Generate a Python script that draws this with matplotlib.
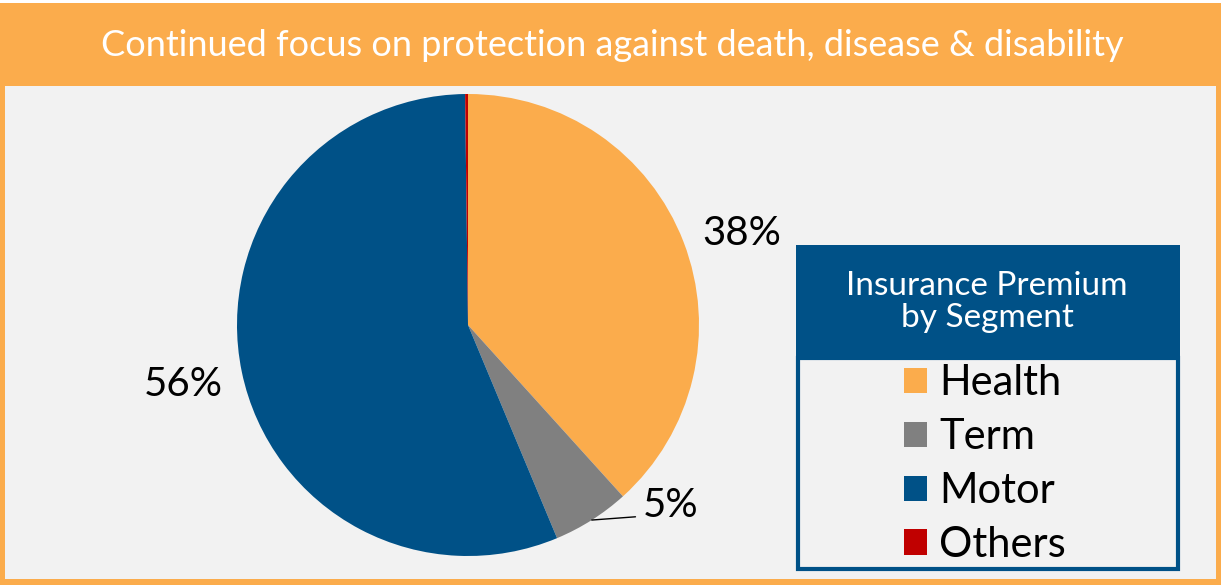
import matplotlib.pyplot as plt
from matplotlib.patches import Rectangle
import numpy as np

# data
segments = ['Health', 'Term', 'Motor', 'Others']
premium_share = [38.3, 5.4, 56.1, 0.2]
pct_labels = ['38%', '5%', '56%', '']
title = 'Continued focus on protection against death, disease & disability'
legend_title = 'Insurance Premium\nby Segment'

orange = '#FBAC4C'
blue = '#005187'
colors = ['#FBAC4C', '#808080', '#005187', '#C00000']
bg = '#F2F2F2'

plt.rcParams['font.family'] = ['Lato', 'DejaVu Sans']

W, H = 1221, 585
fig = plt.figure(figsize=(W / 100, H / 100), dpi=100)
fig.patch.set_facecolor('white')


def box(x0, y0, x1, y1, z=-5, **kw):
    # pixel box (top-left origin) -> figure rectangle
    r = Rectangle((x0 / W, 1 - y1 / H), (x1 - x0) / W, (y1 - y0) / H,
                  transform=fig.transFigure, zorder=z, **kw)
    fig.patches.append(r)
    return r


# frame, title bar and panel
box(0, 3, W, H, facecolor=orange, edgecolor='none')
box(5, 86, 1216, 579, z=-4, facecolor=bg, edgecolor='none')
fig.text(612 / W, 1 - 46 / H, title, color='white', fontsize=26,
         ha='center', va='center')

# pie
cx, cy, r = 468, 325, 231
ax = fig.add_axes([(cx - r) / W, 1 - (cy + r) / H, 2 * r / W, 2 * r / H])
ax.patch.set_visible(False)
wedges, _ = ax.pie(premium_share, colors=colors, startangle=90,
                   counterclock=False, radius=1,
                   wedgeprops=dict(linewidth=0))
ax.set_xlim(-1, 1)
ax.set_ylim(-1, 1)
ax.axis('off')

# label distance / angle nudge per slice (None -> leader line)
dist = [1.25, None, 1.26, None]
nudge = [-2.5, 0, 0, 0]
for w, lab, d, dn in zip(wedges, pct_labels, dist, nudge):
    if not lab:
        continue
    mid = np.deg2rad((w.theta1 + w.theta2) / 2 + dn)
    if d is not None:
        ax.text(d * np.cos(mid), d * np.sin(mid), lab, fontsize=29,
                ha='center', va='center', color='black')
    else:
        ax.annotate(lab, xy=(np.cos(mid), np.sin(mid)),
                    xytext=(0.755, -0.78), fontsize=29, ha='left',
                    va='center', color='black',
                    arrowprops=dict(arrowstyle='-', color='black', lw=1,
                                    relpos=(0, 0.2), shrinkA=3, shrinkB=0))

# legend block
box(796, 245, 1180, 358, z=1, facecolor=blue, edgecolor='none')
box(798, 358, 1178, 569, z=1, facecolor=bg, edgecolor=blue, linewidth=3)
fig.text(987 / W, 1 - 302 / H, legend_title, color='white', fontsize=24,
         ha='center', va='center', linespacing=1.12, zorder=2)
leg = fig.legend(wedges, segments, loc='center',
                 bbox_to_anchor=(985 / W, 1 - 464 / H),
                 frameon=False, fontsize=30, handlelength=0.55,
                 handleheight=0.55, handletextpad=0.3, labelspacing=0.38,
                 borderpad=0)
leg.set_zorder(3)

fig.savefig('out.png', dpi=100)
